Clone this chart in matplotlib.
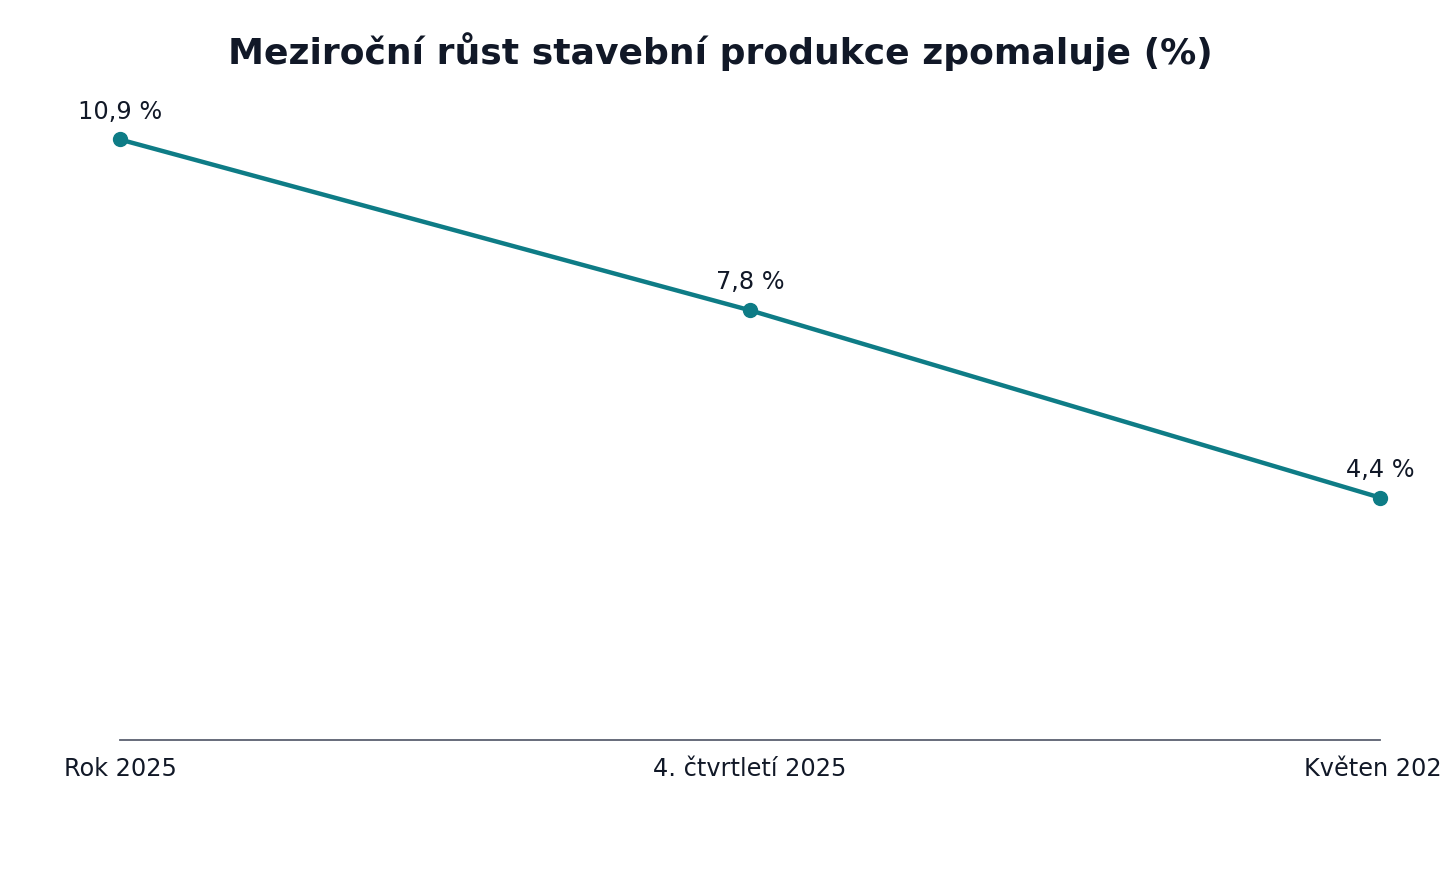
import matplotlib.pyplot as plt

plt.rcParams["font.family"] = ["DejaVu Sans"]

labels = ["Rok 2025", "4. čtvrtletí 2025", "Květen 2026"]
values = [10.9, 7.8, 4.4]
value_texts = ["10,9 %", "7,8 %", "4,4 %"]

teal = "#0e7c86"
text_col = "#111827"

fig = plt.figure(figsize=(14.4, 8.8), dpi=100)
ax = fig.add_axes([120/1440, 140/880, 1260/1440, 660/880])

x = list(range(len(values)))
ax.plot(x, values, color=teal, linewidth=3.2, marker="o", markersize=10, clip_on=False, zorder=3)
for i, v in enumerate(values):
    ax.annotate(value_texts[i], (x[i], v), xytext=(0, 11.5), textcoords="offset points",
                ha="center", va="bottom", fontsize=17.3, color=text_col)

ax.set_xlim(0, 2)
ax.set_ylim(0, 11.98)
ax.set_xticks(x)
ax.set_xticklabels(labels, fontsize=17.3, color=text_col)
ax.tick_params(axis="x", length=0, pad=12.5)
ax.set_yticks([])
for s in ["top", "right", "left"]:
    ax.spines[s].set_visible(False)
ax.spines["bottom"].set_color("#5a6070")
ax.spines["bottom"].set_linewidth(1.3)
for t in ax.get_xticklabels():
    t.set_clip_on(False)

fig.text(0.5, 1 - 52/880, "Meziroční růst stavební produkce zpomaluje (%)",
         ha="center", va="center", fontsize=26, fontweight="bold", color=text_col)

fig.savefig("out.png", dpi=100)
